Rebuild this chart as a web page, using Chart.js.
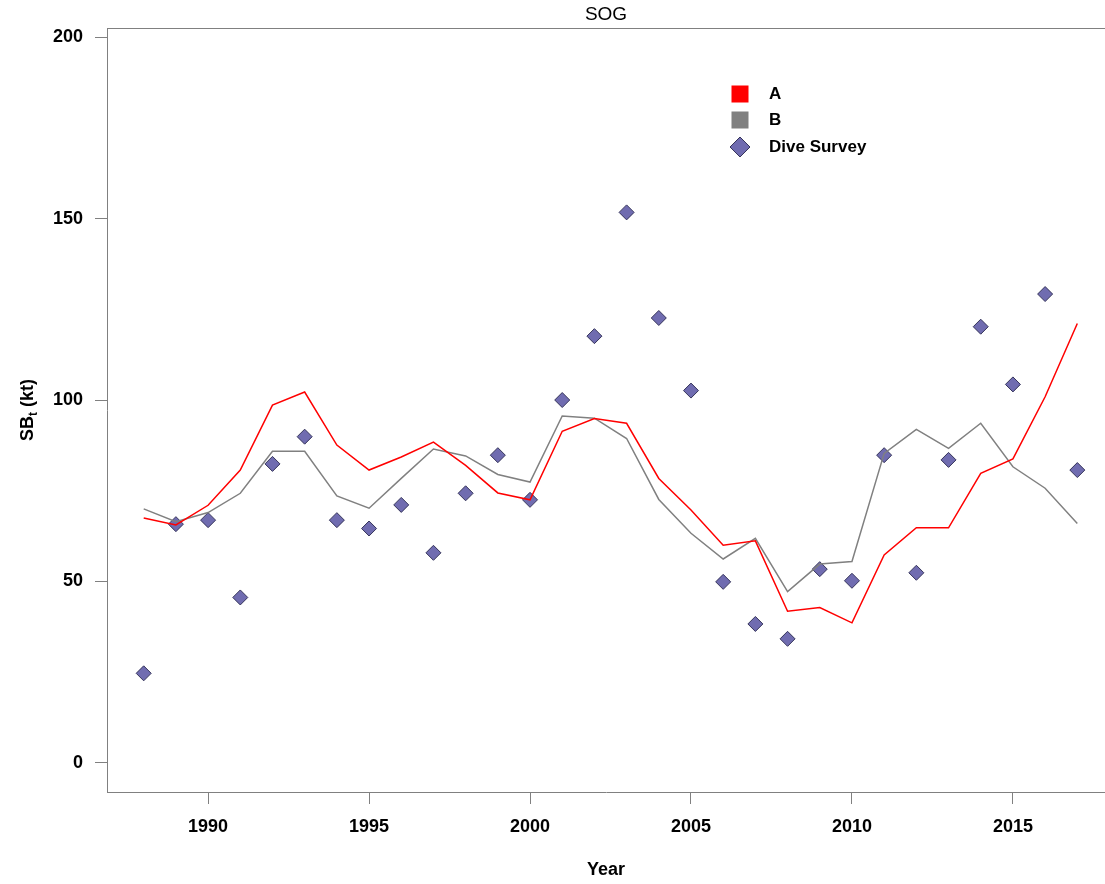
<!DOCTYPE html>
<html>
<head>
<meta charset="utf-8">
<script src="https://cdn.jsdelivr.net/npm/chart.js@4/dist/chart.umd.min.js"></script>
<style>
  html, body { margin: 0; padding: 0; background: #fff; }
  #wrap { width: 1105px; height: 884px; }
</style>
</head>
<body>
<div id="wrap"><canvas id="chart" width="1105" height="884"></canvas></div>
<script>
const years = [1988, 1989, 1990, 1991, 1992, 1993, 1994, 1995, 1996, 1997, 1998, 1999, 2000, 2001, 2002,
  2003, 2004, 2005, 2006, 2007, 2008, 2009, 2010, 2011, 2012, 2013, 2014, 2015, 2016, 2017];
const seriesA = [67.5, 65.6, 71, 80.7, 98.6, 102.2, 87.6, 80.7, 84.3, 88.4, 82, 74.4, 72.5, 91.4, 94.9,
  93.6, 78.4, 69.7, 60, 61.2, 41.8, 42.8, 38.6, 57.3, 64.8, 64.8, 79.8, 83.8, 100.9, 121.1];
const seriesB = [70, 66.5, 69, 74.3, 85.9, 85.9, 73.6, 70.2, 78.4, 86.5, 84.6, 79.5, 77.4, 95.6, 95,
  89.4, 72.6, 63.3, 56.2, 61.9, 47.2, 54.8, 55.5, 85.3, 91.9, 86.7, 93.6, 81.6, 75.7, 66];
const diveSurvey = [24.7, 65.8, 66.9, 45.6, 82.4, 89.9, 66.9, 64.6, 71.1, 57.9, 74.3, 84.8, 72.5, 100, 117.6,
  151.7, 122.6, 102.6, 49.9, 38.3, 34.2, 53.4, 50.2, 84.8, 52.4, 83.5, 120.2, 104.3, 129.2, 80.7];
const xTicks = [1990, 1995, 2000, 2005, 2010, 2015];
const yTicks = [0, 50, 100, 150, 200];

const FONT = 'Liberation Sans, Arial, sans-serif';
const AXIS_GRAY = '#808080';

const toPoints = vals => vals.map((v, i) => ({ x: years[i], y: v }));

// title, axis titles, top frame line and the legend
const decorPlugin = {
  id: 'decor',
  afterDraw(chart) {
    const ctx = chart.ctx;
    const area = chart.chartArea;
    ctx.save();

    // top frame line (no right side in the original, it runs off the edge)
    ctx.strokeStyle = AXIS_GRAY;
    ctx.lineWidth = 1;
    ctx.beginPath();
    ctx.moveTo(area.left, area.top + 0.5);
    ctx.lineTo(area.right, area.top + 0.5);
    ctx.stroke();

    ctx.fillStyle = '#000';
    ctx.textAlign = 'center';
    ctx.textBaseline = 'middle';
    ctx.font = '19px ' + FONT;
    ctx.fillText('SOG', 606, 15);

    ctx.font = 'bold 18px ' + FONT;
    ctx.fillText('Year', 606, 870);

    // y axis title, SB with subscript t
    ctx.save();
    ctx.translate(27, (area.top + area.bottom) / 2);
    ctx.rotate(-Math.PI / 2);
    ctx.textAlign = 'left';
    ctx.textBaseline = 'alphabetic';
    ctx.font = 'bold 18px ' + FONT;
    const w1 = ctx.measureText('SB').width;
    ctx.font = 'bold 12px ' + FONT;
    const w2 = ctx.measureText('t').width;
    ctx.font = 'bold 18px ' + FONT;
    const w3 = ctx.measureText(' (kt)').width;
    const x0 = -(w1 + w2 + w3) / 2;
    ctx.fillText('SB', x0, 6);
    ctx.font = 'bold 12px ' + FONT;
    ctx.fillText('t', x0 + w1, 10);
    ctx.font = 'bold 18px ' + FONT;
    ctx.fillText(' (kt)', x0 + w1 + w2, 6);
    ctx.restore();

    // legend
    const lx = 740, rows = [94, 120, 147];
    ctx.textAlign = 'left';
    ctx.textBaseline = 'middle';
    chart.data.datasets.forEach((ds, i) => {
      const y = rows[i];
      if (ds.legendShape === 'diamond') {
        ctx.fillStyle = ds.backgroundColor;
        ctx.strokeStyle = ds.borderColor;
        ctx.lineWidth = 1;
        ctx.beginPath();
        ctx.moveTo(lx, y - 10);
        ctx.lineTo(lx + 10, y);
        ctx.lineTo(lx, y + 10);
        ctx.lineTo(lx - 10, y);
        ctx.closePath();
        ctx.fill();
        ctx.stroke();
      } else {
        ctx.fillStyle = ds.borderColor;
        ctx.fillRect(lx - 8.5, y - 8.5, 17, 17);
      }
      ctx.fillStyle = '#000';
      ctx.font = 'bold 17px ' + FONT;
      ctx.fillText(ds.label, 769, y);
    });

    ctx.restore();
  }
};

new Chart(document.getElementById('chart'), {
  type: 'line',
  data: {
    datasets: [
      {
        label: 'A',
        data: toPoints(seriesA),
        borderColor: '#ff0000',
        backgroundColor: '#ff0000',
        borderWidth: 1.5,
        pointRadius: 0,
        tension: 0,
        order: 1,
      },
      {
        label: 'B',
        data: toPoints(seriesB),
        borderColor: '#808080',
        backgroundColor: '#808080',
        borderWidth: 1.5,
        pointRadius: 0,
        tension: 0,
        order: 2,
      },
      {
        label: 'Dive Survey',
        data: toPoints(diveSurvey),
        showLine: false,
        pointStyle: 'rectRot',
        pointRadius: 7.5,
        backgroundColor: '#706cb0',
        borderColor: '#35345a',
        borderWidth: 1,
        legendShape: 'diamond',
        order: 3,
      },
    ],
  },
  options: {
    responsive: false,
    animation: false,
    devicePixelRatio: 1,
    layout: { autoPadding: false, padding: { top: 28, right: 0, left: 0, bottom: 0 } },
    plugins: {
      legend: { display: false },
      title: { display: false },
      tooltip: { enabled: false },
    },
    scales: {
      x: {
        type: 'linear',
        min: 1986.86,
        max: 2017.86,
        afterBuildTicks: axis => { axis.ticks = xTicks.map(v => ({ value: v })); },
        afterFit: axis => { axis.height = 92; axis.paddingLeft = 0; axis.paddingRight = 0; },
        grid: { drawOnChartArea: false, drawTicks: true, tickLength: 12, color: AXIS_GRAY },
        border: { display: true, color: AXIS_GRAY },
        ticks: {
          color: '#000',
          font: { family: FONT, size: 18, weight: 'bold' },
          padding: 12,
          maxRotation: 0,
          callback: v => String(v),
        },
      },
      y: {
        min: -8,
        max: 202.5,
        afterBuildTicks: axis => { axis.ticks = yTicks.map(v => ({ value: v })); },
        afterFit: axis => { axis.width = 107; axis.paddingTop = 0; axis.paddingBottom = 0; },
        grid: { drawOnChartArea: false, drawTicks: true, tickLength: 12, color: AXIS_GRAY },
        border: { display: true, color: AXIS_GRAY },
        ticks: {
          color: '#000',
          font: { family: FONT, size: 18, weight: 'bold' },
          padding: 12,
          callback: v => String(v),
        },
      },
    },
  },
  plugins: [decorPlugin],
});
</script>
</body>
</html>
